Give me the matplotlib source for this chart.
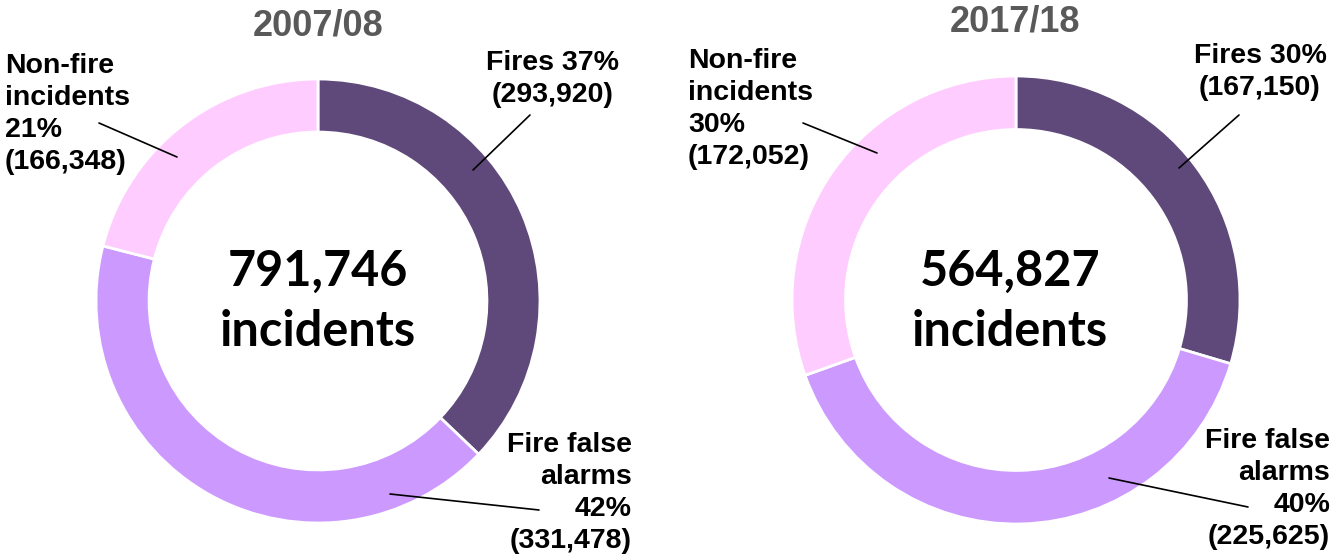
import matplotlib
matplotlib.use("Agg")
import matplotlib.pyplot as plt

W, H = 1332, 559

# --- data ---
years = ["2007/08", "2017/18"]
categories = ["Fires", "Fire false alarms", "Non-fire incidents"]
counts_0708 = [293920, 331478, 166348]
counts_1718 = [167150, 225625, 172052]
colors = ["#5F497A", "#CC99FF", "#FFCCFF"]

# --- layout (pixel coords, y measured from top) ---
centers = [(318, 301), (1016, 300)]
radii = [222, 224]
ring = 0.239
title_pos = [(318, 8), (1015, 5)]
total_x = [318, 1010]

# label anchors: (x, y_top, ha) per category, per chart
label_pos = [
    [(553, 50, "center"), (632, 432, "right"), (5, 53, "left")],
    [(1260, 43, "center"), (1330, 428, "right"), (688, 48, "left")],
]
# leader lines: (text end, ring end)
leaders = [
    [((530, 115), (473, 170)), ((539, 510), (390, 494)), ((99, 123), (177, 157))],
    [((1239, 115), (1179, 168)), ((1248, 507), (1109, 478)), ((803, 123), (877, 153))],
]

LABEL_FONT = ["Liberation Sans", "DejaVu Sans"]
CENTER_FONT = ["Lato", "DejaVu Sans"]


def py(y):
    return H - y


def label_text(cat, count, total):
    pct = round(count / total * 100)
    if cat == "Fires":
        return f"Fires {pct}%\n({count:,})"
    if cat == "Fire false alarms":
        return f"Fire false\nalarms\n{pct}%\n({count:,})"
    return f"Non-fire\nincidents\n{pct}%\n({count:,})"


fig = plt.figure(figsize=(W / 100, H / 100), dpi=100)
ax = fig.add_axes([0, 0, 1, 1])

for i, counts in enumerate([counts_0708, counts_1718]):
    cx, cy = centers[i]
    total = sum(counts)
    ax.pie(counts, colors=colors, startangle=90, counterclock=False,
           center=(cx, py(cy)), radius=radii[i],
           wedgeprops=dict(width=radii[i] * ring, edgecolor="white",
                           linewidth=2.0))

    tx, ty = title_pos[i]
    ax.text(tx, py(ty), years[i], ha="center", va="top", fontsize=26,
            fontweight="bold", color="#595959", family=LABEL_FONT)

    ax.text(total_x[i], py(286), f"{total:,}", ha="center", va="baseline",
            fontsize=35, fontweight="bold", color="black", family=CENTER_FONT)
    ax.text(total_x[i], py(346), "incidents", ha="center", va="baseline",
            fontsize=35, fontweight="bold", color="black", family=CENTER_FONT)

    for j, cat in enumerate(categories):
        lx, ly, ha = label_pos[i][j]
        ax.text(lx, py(ly), label_text(cat, counts[j], total), ha=ha, va="top",
                multialignment=ha, fontsize=20.5, fontweight="bold",
                color="black", family=LABEL_FONT, linespacing=1.3)
        (x0, y0), (x1, y1) = leaders[i][j]
        ax.annotate("", xy=(x1, py(y1)), xytext=(x0, py(y0)),
                    arrowprops=dict(arrowstyle="-", color="black", lw=1.2,
                                    shrinkA=0, shrinkB=0))

# pie() resets the limits, so set them afterwards
ax.set_xlim(0, W)
ax.set_ylim(0, H)
ax.set_aspect("equal")
ax.axis("off")

fig.savefig("out.png", dpi=100)
